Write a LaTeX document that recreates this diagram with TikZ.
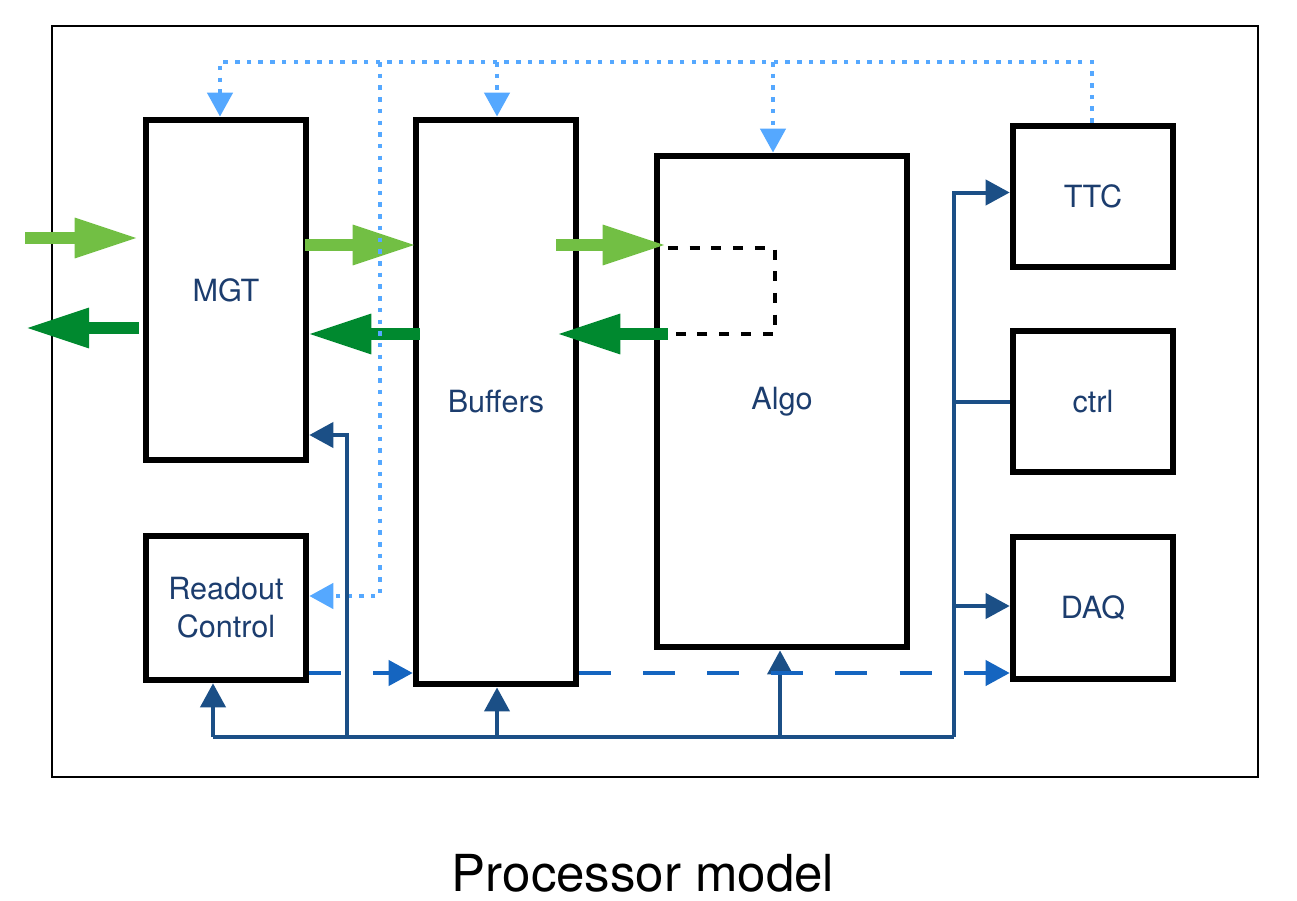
\documentclass[tikz,border=0pt]{standalone}
\usepackage{fontspec}
\setmainfont{TeX Gyre Heros}
\usetikzlibrary{positioning,arrows.meta,calc}
\definecolor{lblgreen}{HTML}{72BF44}
\definecolor{lbdgreen}{HTML}{00892F}
\definecolor{ttcblue}{HTML}{55A8FF}
\definecolor{busblue}{HTML}{1B4F86}
\definecolor{daqblue}{HTML}{1565C0}
\definecolor{txtblue}{HTML}{1C3D6E}
\tikzset{
    every node/.style={font=\fontsize{8.7}{10.8}\selectfont,text=txtblue},
    blockbox/.style={draw=black,line width=0.065cm,align=center,inner sep=0pt},
    gfwd/.style={draw=lblgreen,line width=0.12cm,-{Triangle[length=0.64cm,width=0.37cm]}},
    gback/.style={draw=lbdgreen,line width=0.12cm,-{Triangle[length=0.64cm,width=0.37cm]}},
    ttcline/.style={draw=ttcblue,line width=0.045cm,dash pattern=on 0.045cm off 0.072cm},
    ttcarr/.style={ttcline,-{Triangle[length=0.24cm,width=0.25cm]}},
    busline/.style={draw=busblue,line width=0.04cm},
    busarr/.style={busline,-{Triangle[length=0.24cm,width=0.25cm]}},
    daqline/.style={draw=daqblue,line width=0.04cm,dash pattern=on 0.32cm off 0.32cm,-{Triangle[length=0.24cm,width=0.25cm]}},
    loopline/.style={draw=black,line width=0.04cm,dash pattern=on 0.1cm off 0.117cm}
}
\begin{document}
\begin{tikzpicture}[x=0.01cm,y=-0.01cm]
\useasboundingbox (0,0) rectangle (1297,900);
\draw[line width=0.02cm] (52,26) rectangle (1258,777);

\node[blockbox,minimum width=1.6cm,minimum height=3.4cm] (MGT) at (226,290) {MGT};
\node[blockbox,minimum width=1.6cm,minimum height=1.44cm] (RC) at (226,608) {Readout\\Control};
\node[blockbox,minimum width=1.6cm,minimum height=5.64cm] (Buf) at (496,402) {Buffers};
\node[blockbox,minimum width=2.5cm,minimum height=4.91cm] (Algo) at (782,401.5) {Algo};
\node[blockbox,minimum width=1.6cm,minimum height=1.41cm] (TTC) at (1093,196.5) {TTC};
\node[blockbox,minimum width=1.6cm,minimum height=1.41cm] (Ctrl) at (1093,401.5) {ctrl};
\node[blockbox,minimum width=1.6cm,minimum height=1.42cm] (DAQ) at (1093,608) {DAQ};
\node[font=\fontsize{14.5}{17}\selectfont,text=black] (title) at (643,873) {Processor model};

\coordinate (inA) at (25,238);
\coordinate (outA) at (25,328);
\coordinate (gf) at (0,245);
\coordinate (gb) at (0,334);
\draw[gfwd] (inA) -- ($(inA -| MGT.west)+(-4,0)$);
\draw[gback] ($(outA -| MGT.west)+(-4,0)$) -- (outA);
\draw[gfwd] ($(MGT.east |- gf)+(-4,0)$) -- ($(Buf.west |- gf)+(4,0)$);
\draw[gback] ($(Buf.west |- gb)+(7,0)$) -- ($(MGT.east |- gb)+(-2,0)$);
\draw[gfwd] ($(Buf.east |- gf)+(-23,0)$) -- ($(Algo.west |- gf)+(13,0)$);
\draw[gback] ($(Algo.west |- gb)+(14,0)$) -- ($(Buf.east |- gb)+(-23,0)$);
\draw[loopline] (668,248) -| (775,334) -- (668,334);

\coordinate (t1) at (220,62);
\coordinate (t2) at (380,62);
\coordinate (t3) at (497,62);
\coordinate (t4) at (773,62);
\draw[ttcarr] (TTC.north -| 1092,0) |- (t1) -- (t1 |- MGT.north);
\draw[ttcarr] (t2) |- ($(RC.east)+(0,-12)$);
\draw[ttcarr] (t3) -- (t3 |- Buf.north);
\draw[ttcarr] (t4) -- (t4 |- Algo.north);

\coordinate (b0) at (213,737);
\coordinate (b1) at (347,737);
\coordinate (b2) at (497,737);
\coordinate (b3) at (780,737);
\coordinate (b4) at (954,737);
\draw[busline] (b0) -- (b4);
\draw[busarr] (b0) -- (b0 |- RC.south);
\draw[busarr] (b1) |- ($(MGT.east)+(0,145)$);
\draw[busarr] (b2) -- (b2 |- Buf.south);
\draw[busarr] (b3) -- (b3 |- Algo.south);
\draw[busarr] (b4) |- ($(TTC.west)+(0,-4)$);
\draw[busline] (b4 |- Ctrl.west) -- (Ctrl.west);
\draw[busarr] ($(b4 |- DAQ.west)+(0,-2)$) -- ($(DAQ.west)+(0,-2)$);

\coordinate (d0) at (0,673);
\draw[daqline] (RC.east |- d0) -- (Buf.west |- d0);
\draw[daqline] (Buf.east |- d0) -- (DAQ.west |- d0);
\end{tikzpicture}
\end{document}
